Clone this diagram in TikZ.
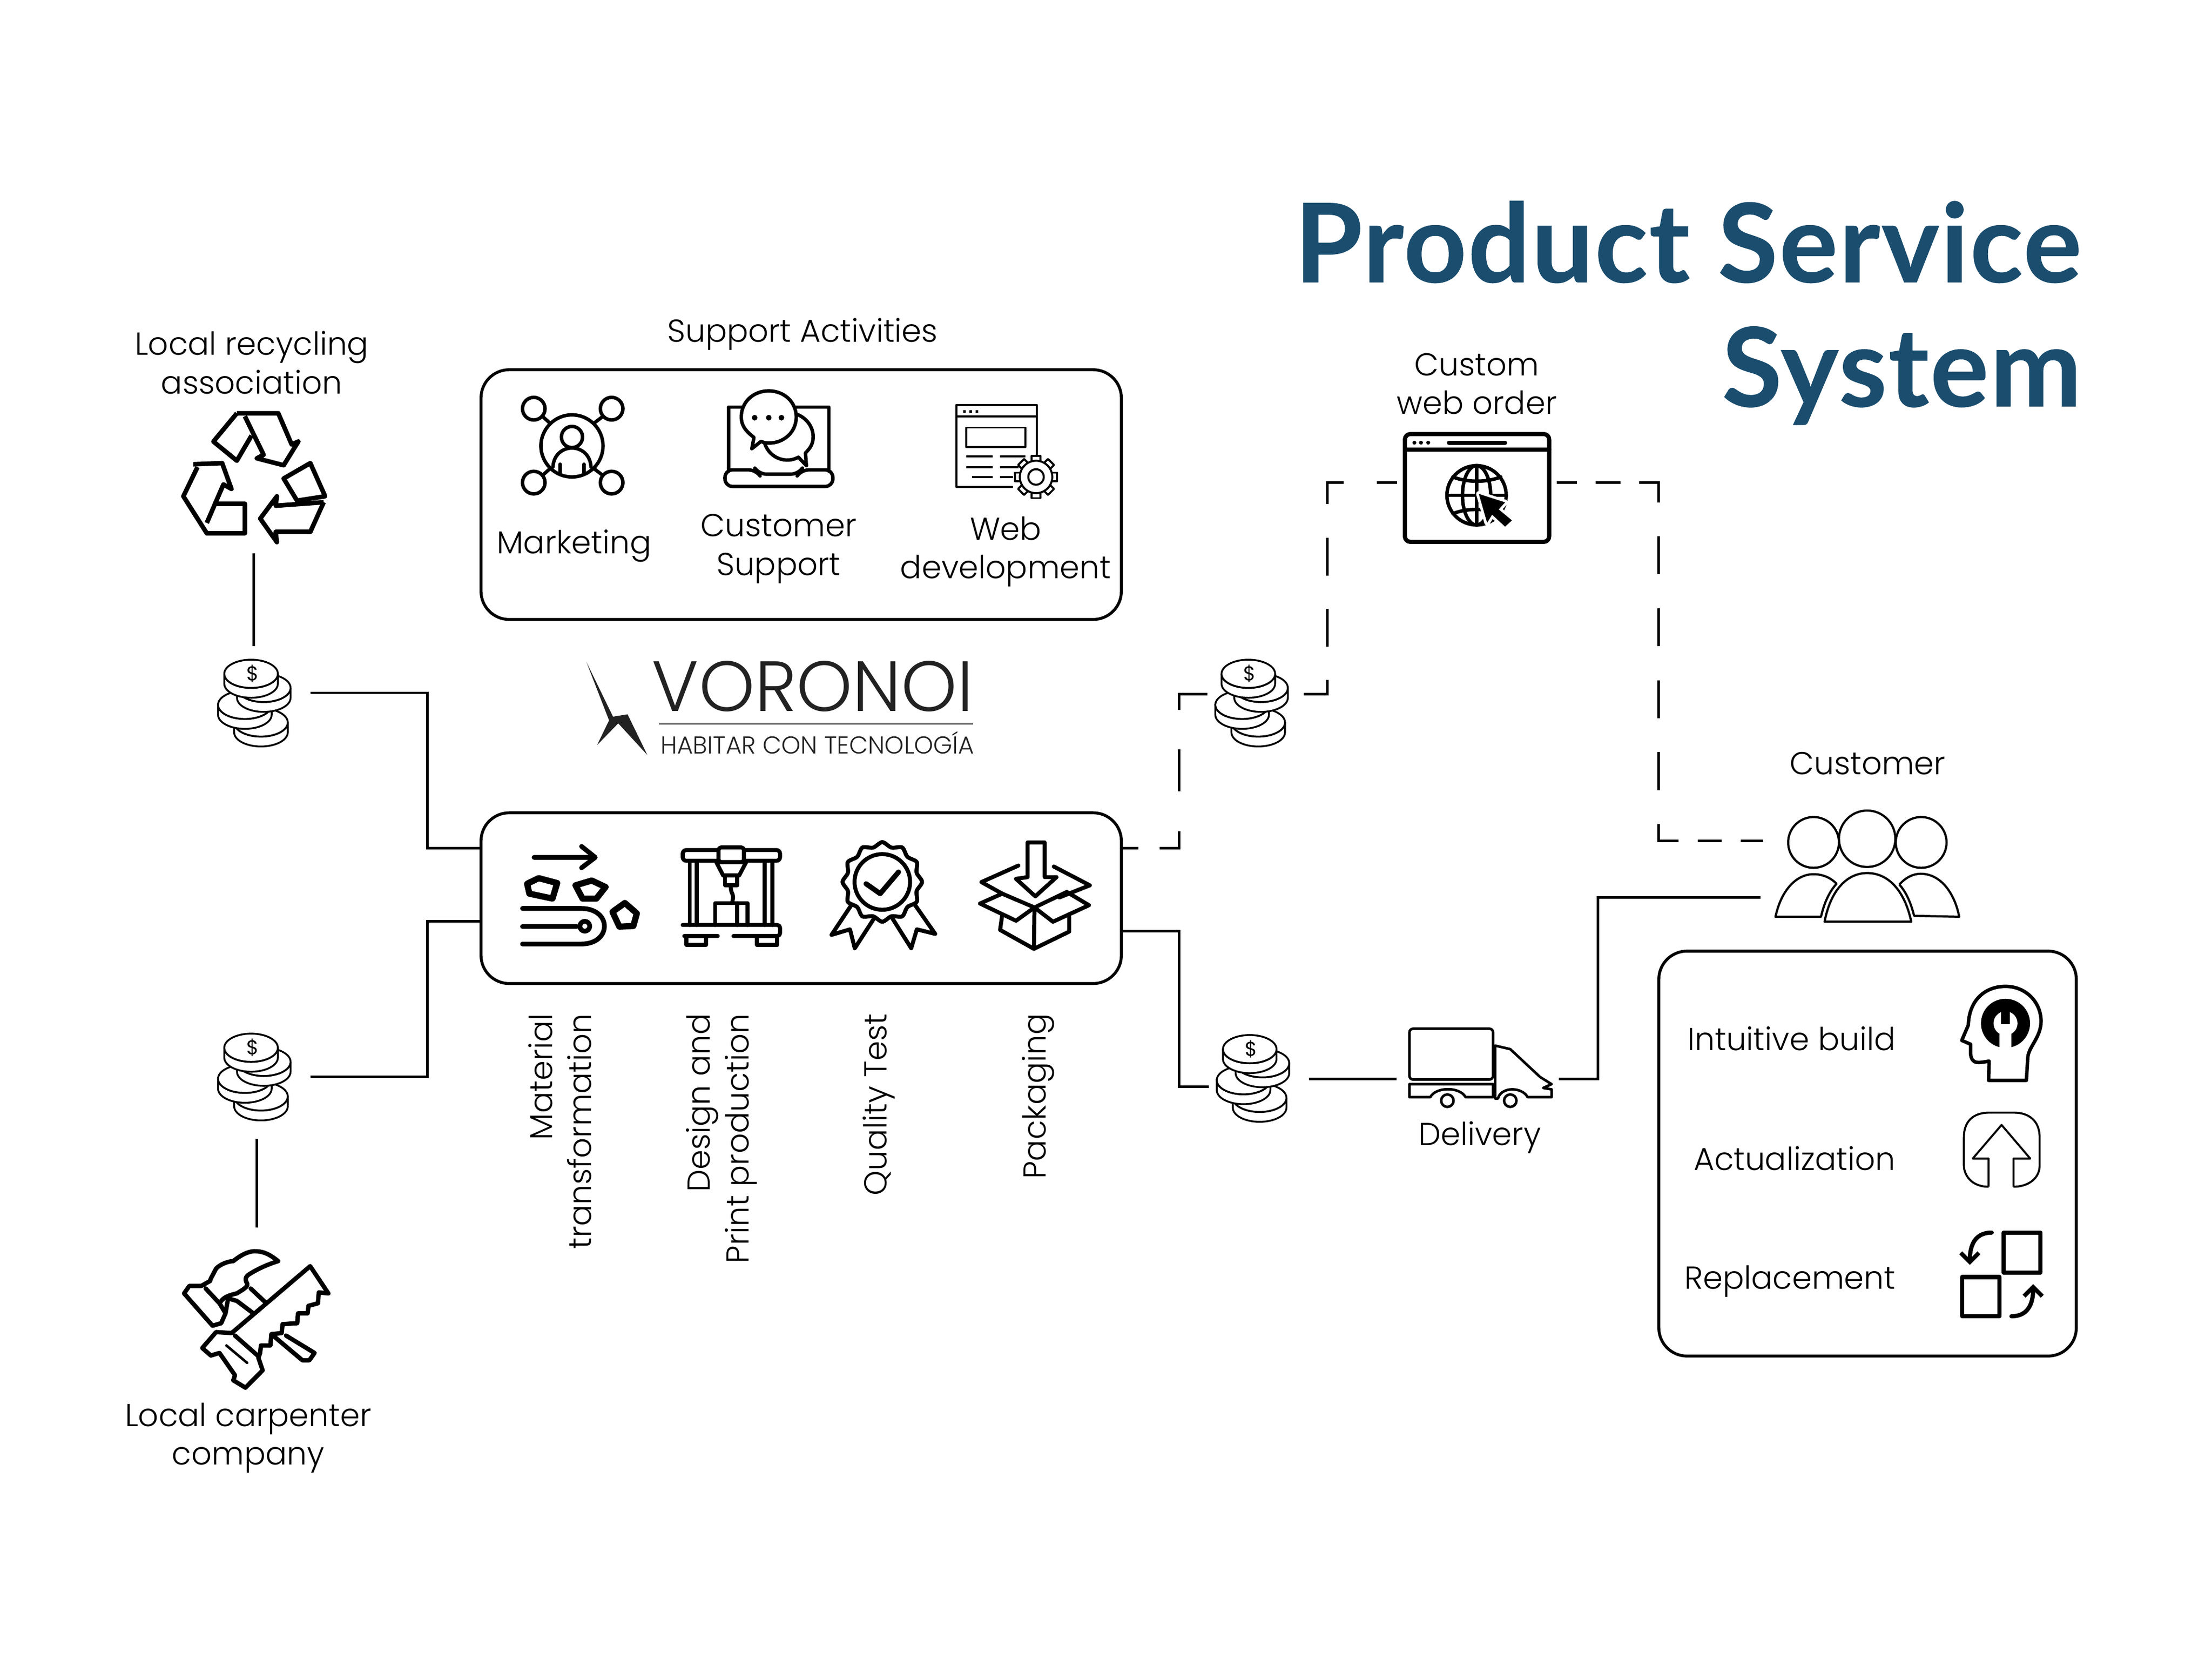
\documentclass[tikz,border=0pt]{standalone}
\usepackage{fontspec}
\setmainfont{Poppins Light}
\newfontfamily\titlefont[LetterSpace=1.4,FakeBold=0.5]{Lato Bold}
\newfontfamily\coinfont{Poppins}
\usetikzlibrary{arrows.meta}
\newcommand{\un}{0.02721cm}
\newcommand{\lblfont}{\fontsize{17.4}{21.2}\selectfont}
\definecolor{titleblue}{HTML}{1A4D6E}
\definecolor{logoink}{HTML}{222222}
\tikzset{
    hold/.style 2 args={inner sep=0pt,outer sep=0pt,minimum width=#1*\un,minimum height=#2*\un},
    wire/.style={line width=1.4pt},
    dashlink/.style={line width=1.4pt,line cap=rect},
    frame/.style={line width=1.6pt,rounded corners=15.5pt},
    lbl/.style={font=\lblfont,align=center,inner sep=0pt},
    icon/.style={line width=1.9pt,line join=round,line cap=round},
    fine/.style={line width=1.1pt,line join=round},
    coin/.style={line width=1.0pt,fill=white},
    coins/.pic={
        \foreach \cx/\cy in {4/14,-7.4/1.5,6/-10.5,-3/-20.5}{
            \draw[coin] (\cx-19,\cy) -- (\cx-19,\cy+7) arc[start angle=180,end angle=360,x radius=19,y radius=-10]
                -- (\cx+19,\cy) arc[start angle=0,end angle=180,x radius=19,y radius=10] -- cycle;
            \draw[coin] (\cx,\cy) circle[x radius=19,y radius=10];
        }
        \node[inner sep=0pt,font=\coinfont\fontsize{11}{11}\selectfont] (dollar) at (-2,-20.5) {\$};
    }
}
\begin{document}
\begin{tikzpicture}[x=\un,y=-\un]
    \useasboundingbox (0,0) rectangle (1568.2,1185.6);

    \node[font=\titlefont\fontsize{60}{60}\selectfont,text=titleblue,anchor=base east,inner sep=0pt] (title1) at (1476,200) {Product Service};
    \node[font=\titlefont\fontsize{60}{60}\selectfont,text=titleblue,anchor=base east,inner sep=0pt] (title2) at (1476,288) {System};

    % boxes
    \draw[frame] (341,262) rectangle (795,439);
    \draw[frame] (341,576) rectangle (795,697);
    \draw[frame] (1176,674) rectangle (1472,961);

    % places the connectors stop at
    \node[hold={90}{24}] (recycle) at (180,380) {};
    \node[hold={80}{66}] (coinA) at (180,491) {};
    \node[hold={76}{88}] (coinB) at (182,763) {};
    \node[hold={60}{120}] (tools) at (182,930) {};
    \node[hold={67}{40}] (coinC) at (888.5,492) {};
    \node[hold={71}{40}] (coinD) at (892.5,764.5) {};
    \node[hold={115}{60}] (web) at (1047,342) {};
    \node[hold={115}{40}] (truck) at (1047.5,764.5) {};
    \coordinate (inA) at (341,601);
    \coordinate (inB) at (341,653);
    \coordinate (outA) at (795,601);
    \coordinate (outB) at (795,660);
    \coordinate (payIn) at (857,770);
    \coordinate (crowdIn) at (1248,636);
    \coordinate (crowdOrder) at (1249,596);
    \coordinate (lowBend) at (836,601);
    \coordinate (highBend) at (836,492);
    \coordinate (upBend) at (941,492);
    \coordinate (rightTop) at (1176,342);
    \coordinate (rightLow) at (1176,596);

    % connectors
    \draw[wire] (recycle.south) -- (coinA.north);
    \draw[wire] (coinB.south) -- (tools.north);
    \draw[wire] (coinA.east) -- ++(83,0) |- (inA);
    \draw[wire] (coinB.east) -- ++(83,0) |- (inB);
    \draw[wire] (outB) -- ++(41,0) |- (payIn);
    \draw[wire] (coinD.east) -- (truck.west);
    \draw[wire] (truck.east) -- ++(28,0) |- (crowdIn);

    \draw[dashlink,dash pattern=on 11.6pt off 13.2pt,dash phase=3.1pt] (outA) -- (lowBend);
    \draw[dashlink,dash pattern=on 21.7pt off 23.2pt,dash phase=13.2pt] (lowBend) -- (highBend);
    \draw[dashlink] (highBend) -- (coinC.west);
    \draw[dashlink,dash pattern=on 19.4pt off 19.7pt,dash phase=9.8pt] (web.west) -| (upBend) -- (coinC.east);
    \draw[dashlink,dash pattern=on 12.4pt off 11.6pt,dash phase=2.7pt] (web.east) -- (rightTop);
    \draw[dashlink,dash pattern=on 19.5pt off 20pt,dash phase=9.4pt] (rightTop) -- (rightLow);
    \draw[dashlink,dash pattern=on 11.6pt off 12pt,dash phase=1.55pt] (rightLow) -- (crowdOrder);

    % coins
    \pic at (181,498) {coins};
    \pic at (181,763) {coins};
    \pic at (888,498) {coins};
    \pic at (889,764) {coins};

    % labels
    \node[lbl] (tRecycle) at (178.5,257) {Local recycling\\association};
    \node[lbl] (tSupport) at (569,237) {Support Activities};
    \node[lbl] (tMarket) at (407,387) {Marketing};
    \node[lbl] (tCustomer) at (552,389) {Customer\\Support};
    \node[lbl] (tWeb) at (713,391) {Web\\development};
    \node[lbl] (tCarpenter) at (176,1019) {Local carpenter\\company};
    \node[lbl] (tOrder) at (1047,272) {Custom\\web order};
    \node[lbl] (tBuyer) at (1324,541) {Customer};
    \node[lbl] (tDelivery) at (1049,806) {Delivery};
    \node[lbl,anchor=east] (tBuild) at (1344,736) {Intuitive build};
    \node[lbl,anchor=east] (tActual) at (1344,821) {Actualization};
    \node[lbl,anchor=east] (tReplace) at (1344,908) {Replacement};

    \begin{scope}[every node/.style={lbl,rotate=90,anchor=east,align=right}]
        \node (tMaterial) at (397,718) {Material\\transformation};
        \node (tDesign) at (511.5,718) {Design and\\Print production};
        \node (tQuality) at (623,718) {Quality Test};
        \node (tPacking) at (736,718) {Packaging};
    \end{scope}

    % logo
    \fill[logoink] (415.8,469.3) -- (434.6,507.9) -- (444.9,506.2) -- (458.9,535) -- (438.3,512.6) -- (423.3,528) -- (431.8,510.5) -- cycle;
    \node[font=\fontsize{39}{39}\selectfont,text=logoink,inner sep=0pt,anchor=base west] (logoName) at (462,504) {VORONOI};
    \node[font=\fontsize{13.4}{13.4}\selectfont,text=logoink,inner sep=0pt,anchor=base west] (logoLine) at (468,534) {HABITAR CON TECNOLOGÍA};
    \draw[logoink,line width=0.7pt] (467,513) -- (690,513);

    % recycling
    \begin{scope}[icon,line width=2.5pt,line cap=butt]
        \draw (167.9,292.9) -- (197.3,292.9) -- (206.8,315) -- (211.5,312.9) -- (201.1,329.7) -- (182.1,324.8) -- (186.9,322.3) -- (173.6,295);
        \draw (167.9,292.9) -- (151.3,312.9) -- (167.9,326.5) -- (178.3,308.7);
        \draw (201.1,339.1) -- (220,328.2) -- (230.5,351.7) -- (210.6,354.8) -- cycle;
        \draw (229.5,355.9) -- (195.4,358.4) -- (196.3,351.7) -- (184.5,367.5) -- (196.3,384.2) -- (195.4,376.9) -- (220,376.9) -- (229.5,355.9);
        \draw (137,329) -- (157.5,328.2) -- (164.1,346.5) -- (158.4,343.3) -- (146.6,370.6);
        \draw (140,331) -- (130,351.7) -- (146.6,377.9) -- (173.6,377.9) -- (173.6,357) -- (151.3,357);
    \end{scope}

    % marketing
    \begin{scope}[icon]
        \draw (405.5,316) circle (22);
        \foreach \sx/\sy in {378.4/289.6,433.6/289.6,378.4/342,433.6/342}{
            \draw (\sx,\sy) circle (8);
        }
        \draw (384.5,295) -- (390,300) (427.5,295) -- (421,300) (384.5,337) -- (390,332) (427.5,337) -- (421,332);
        \draw (405.5,309.7) circle (7.5);
        \draw (392,331) .. controls (393,313) and (418,313) .. (419,331);
        \draw (397,329) -- (397,335) (414,329) -- (414,335);
    \end{scope}

    % customer support
    \begin{scope}[icon]
        \draw (516.5,334) -- (516.5,288.5) -- (587.6,288.5) -- (587.6,334);
        \draw[rounded corners=4pt] (514,333) -- (536,333) -- (538,336) -- (566,336) -- (568,333) -- (590.4,333) -- (590.4,344.7) -- (514,344.7) -- cycle;
        \draw[fill=white] (571.7,330) -- (566,324) .. controls (555,330) and (541.5,322) .. (541.5,309.5) .. controls (541.5,300) and (550,292.5) .. (559,292.5) .. controls (568,292.5) and (576.5,300) .. (576.5,309.5) .. controls (576.5,315) and (574,318) .. (571,321) -- cycle;
        \draw[fill=white] (533,318) -- (534.5,310) .. controls (528,305) and (525.5,301) .. (525.5,295.5) .. controls (525.5,285) and (534,277) .. (545,277) .. controls (556,277) and (564.5,285) .. (564.5,295.5) .. controls (564.5,306) and (556,314) .. (545,314) .. controls (543,314) and (541,313.5) .. (539.5,312.8) -- cycle;
        \fill (535,296) circle (2) (545,296) circle (2) (554,296) circle (2);
    \end{scope}

    % web development
    \begin{scope}[fine]
        \draw (735,330) -- (735,287) -- (678,287) -- (678,345) -- (718,345);
        \draw (678,295) -- (735,295);
        \draw[dotted,line width=1.4pt] (683,291.5) -- (694,291.5);
        \draw (685,303) rectangle (727,316.7);
        \draw (685,323.5) -- (703.7,323.5) (709,323.5) -- (727,323.5);
        \draw (685,331) -- (703.7,331) (709,331) -- (722,331);
        \draw (689,338) -- (703.7,338) (709,338) -- (718,338);
        \foreach \a in {0,45,...,315}{
            \draw[shift={(734.5,338)},rotate=\a,fill=white] (-3,-15) rectangle (3,-9);
        }
        \draw[fill=white] (734.5,338) circle (11.5);
        \draw (734.5,338) circle (5.5);
    \end{scope}

    % conveyor
    \begin{scope}[icon,line width=2.6pt]
        \draw (378.6,607.6) -- (421.1,607.6) (412.3,599.8) -- (422,607.6) -- (412.3,615);
        \begin{scope}[line width=3.4pt]
            \draw (373.7,626.3) -- (381.9,622.3) -- (395,625.8) -- (391.7,636.8) -- (375.3,633.3) -- cycle;
            \draw (408,627.4) -- (419.5,624) -- (429.3,628.6) -- (422.8,636.8) -- (413,636.8) -- cycle;
            \draw (434.2,646.2) -- (443,639.9) -- (451.5,647.3) -- (449,656.2) -- (439.1,656.7) -- cycle;
        \end{scope}
        \draw (370.4,643.8) -- (412,643.8) .. controls (434,643.8) and (434,669) .. (412,669) -- (370.4,669);
        \draw (370.4,656.7) -- (409,656.7);
        \draw (414.6,656.4) circle (3.5);
    \end{scope}

    % printer
    \begin{scope}[icon,line width=2.2pt]
        \draw[rounded corners=2pt] (484,602.4) rectangle (553,610);
        \draw (489,610) -- (489,655.5) (494,610) -- (494,655.5) (542,610) -- (542,655.5) (547.7,610) -- (547.7,655.5);
        \draw (507,655.5) -- (507,640) -- (530,640) -- (530,655.5) (522.5,640) -- (522.5,655.5);
        \draw[rounded corners=1.5pt] (484,655.5) -- (553,655.5) -- (553,663.3) -- (520,663.3) (510,663.3) -- (484,663.3) -- cycle;
        \draw (486.5,663.3) rectangle (500.6,669.6) (536.6,663.3) rectangle (551,669.6);
        \draw[fill=white,rounded corners=1.5pt] (509.4,600.5) rectangle (527.4,611);
        \draw[fill=white] (507.8,611) -- (529,611) -- (524,620.4) -- (512.7,620.4) -- cycle;
        \draw (514,620.4) -- (514,627.4) -- (522.5,627.4) -- (522.5,620.4);
        \draw (518,627.4) .. controls (518,635) and (521,632) .. (519,640);
    \end{scope}

    % quality medal
    \begin{scope}[icon,line width=2.2pt]
        \draw (604.3,640.3) -- (589.5,662.5) -- (602.6,658.6) -- (606,672) -- (619.6,650.9);
        \draw (647.7,639.9) -- (663,661.8) -- (650,658.6) -- (646,672) -- (632.7,650.9);
        \draw[fill=white] plot[smooth cycle,samples at={0,1,...,23},variable=\k] ({625.5+(26.7+1.5*cos(\k*180))*cos(\k*15)},{625+(26.7+1.5*cos(\k*180))*sin(\k*15)});
        \draw (625.5,625) circle (19.7);
        \draw[line width=2.8pt] (614,626.3) -- (624,633.3) -- (637,618);
    \end{scope}

    % packaging
    \begin{scope}[icon,line width=2.2pt]
        \draw (728.5,597) -- (740.6,597) -- (740.6,621.6) -- (749,621.6) -- (734,635.2) -- (720.3,622.8) -- (728.5,621.6) -- cycle;
        \draw (722,613.4) -- (695.8,625.1) -- (710.5,633.3);
        \draw (747.1,614.1) -- (772.6,627.4) -- (751,636);
        \draw (710.5,633.3) -- (694.8,640.3) -- (720.3,652.5) -- (733.4,643.1) -- (746.5,653.2) -- (772,641.5) -- (756.3,632.1);
        \draw (710.5,633.3) -- (733.4,643.1) -- (756.3,632.1);
        \draw (710.5,648.5) -- (709,659) -- (733,672.4) -- (758,660.2) -- (758,649.7);
        \draw (733.4,643.1) -- (733,672.4);
    \end{scope}

    % tools
    \begin{scope}[icon,line width=2.4pt]
        % hammer
        \draw (148.9,907.8) -- (142.7,911.3) -- (134.2,911.3) -- (130.5,916.6) -- (150.7,939.5) -- (156.8,937.7) -- (159.9,930.7) -- (155.6,923.6) -- (145.8,913.1);
        \draw (155.6,923.6) .. controls (158,920) and (160,918.4) .. (167.9,916.6) .. controls (172,914) and (176,912) .. (175.2,909.6) .. controls (173,906) and (175,904) .. (176.4,903.2) .. controls (183,899) and (190,896) .. (197.2,893.7) .. controls (190,888) and (186,886.7) .. (180.1,886.7) .. controls (175,887) and (170,890) .. (165.4,893.7) .. controls (160,894) and (155,897) .. (153.2,899) -- (149.5,906) -- (148.9,907.8);
        \draw (159.9,930.7) -- (161.7,920.1) -- (167.9,921.9) -- (181.3,932);
        \draw (177.7,913.1) -- (189.3,924);
        \draw (202.8,946.5) -- (223,958.8) -- (219.3,964) -- (214.4,964) -- (193.6,946.5);
        % saw
        \draw[fill=white] (164.2,944.7) -- (219.9,897.3) -- (232.8,916.6) -- (226,915.9) -- (225.4,923.6) -- (218.7,925.4) -- (218.1,930.7) -- (211.3,930.7) -- (210.7,937.7) -- (200.3,938.4) -- (199.7,944.7) -- (192.4,945.5) -- (191.7,953.5) -- (185,953.5) -- (184.4,958.8) -- (183.2,962.3) -- (186.2,971.1) -- (174,983.4) -- (165.4,978.2) -- (166.6,974.6) -- (155.6,958.8) -- (149.5,960.6) -- (143.4,955.3) -- (153.2,944) -- cycle;
        \draw (166.6,946.5) -- (182.6,960.6);
        \draw[line width=1.4pt] (160.5,953.5) -- (175.2,965.8);
    \end{scope}

    % web order
    \begin{scope}[icon,line width=2.3pt]
        \draw[rounded corners=3pt] (996,307.6) rectangle (1098.3,384);
        \draw (996,318.5) -- (1098.3,318.5);
        \fill (1002.7,313.7) circle (1.4) (1007.4,313.7) circle (1.4) (1012.5,313.7) circle (1.4);
        \draw (1027.3,313.7) -- (1067,313.7);
        \begin{scope}[line width=1.9pt]
            \draw (1046.8,351) circle (21);
            \draw (1046.8,351) circle[x radius=10,y radius=21];
            \draw (1046.8,330) -- (1046.8,372) (1026,351) -- (1067.6,351);
            \draw (1030,338) .. controls (1040,342) and (1054,342) .. (1064,338);
            \draw (1030,364) .. controls (1040,360) and (1054,360) .. (1064,364);
        \end{scope}
        \draw[white,line width=3pt,fill=black] (1048.4,350) -- (1067,356) -- (1062.5,361) -- (1071.9,368.8) -- (1067,373.2) -- (1057.8,364.7) -- (1054.3,370.5) -- cycle;
        \fill (1048.4,350) -- (1067,356) -- (1062.5,361) -- (1071.9,368.8) -- (1067,373.2) -- (1057.8,364.7) -- (1054.3,370.5) -- cycle;
    \end{scope}

    % truck
    \begin{scope}[fine,line width=1.4pt]
        \draw[rounded corners=2pt] (999.2,729) rectangle (1058.5,765);
        \draw (999.2,768.3) -- (1058.5,768.3) -- (1058.5,777.5) -- (1039,777.5) .. controls (1035,770) and (1018,770) .. (1014,777.5) -- (999.2,777.5) -- cycle;
        \draw (1060,741) -- (1070.7,743.5) -- (1091.8,763.2) -- (1100,768.3) -- (1094,771) -- (1100,772) -- (1100,777.5) -- (1083,777.5) .. controls (1079,770) and (1064,770) .. (1062,778.5) -- (1060,778.5) -- cycle;
        \draw (1026.1,780) circle (4.4) (1070.7,780) circle (4.4);
    \end{scope}

    % customers
    \begin{scope}[fine,line width=1.2pt]
        \draw (1323.7,594.4) circle (20);
        \draw (1285.7,597) circle (18);
        \draw (1362,597) circle (18);
        \draw (1293.5,653.2) .. controls (1298,630) and (1310,618.7) .. (1323.7,618.7) .. controls (1338,618.7) and (1350,630) .. (1355,653.2) -- cycle;
        \draw (1258.7,649.7) .. controls (1263,630) and (1274,619.5) .. (1285.7,619.5) .. controls (1292,619.5) and (1298,622) .. (1302,626.3) .. controls (1296,633) and (1293,641) .. (1291,649.7) -- cycle;
        \draw (1346.5,626.8) .. controls (1351,622) and (1356,619.2) .. (1361.7,619.2) .. controls (1374,619.2) and (1385,630) .. (1389,649.7) -- (1357,649) .. controls (1355,641) and (1352,633) .. (1346.5,626.8);
    \end{scope}

    % intuitive build
    \begin{scope}[icon,line width=1.9pt]
        \draw (1409.8,765.6) -- (1410.2,752) .. controls (1403,753) and (1398,755) .. (1397,746.8) -- (1397,740) -- (1390.8,737.3) -- (1395.4,726.5) .. controls (1396,708) and (1408,699) .. (1421.8,699) .. controls (1436,699) and (1447,710) .. (1447,723.8) .. controls (1447,735) and (1438,742) .. (1437.6,749.5) -- (1436.6,765.6) -- cycle;
        \fill (1421.8,725.2) circle (17.4);
        \fill[white] (1421.8,725.2) circle (8.5);
        \fill[white] (1417.5,725) rectangle (1426,743);
        \fill (1418.7,716) rectangle (1425,726);
    \end{scope}

    % actualization
    \begin{scope}[fine]
        \draw (1409.8,841) .. controls (1397,841) and (1392.3,832) .. (1392.3,826) -- (1392.3,806) .. controls (1392.3,792) and (1402,788.5) .. (1410,788.5) -- (1428,788.5) .. controls (1438,788.5) and (1446,794) .. (1446,806) -- (1446,826) .. controls (1446,835) and (1438,841) .. (1427.5,841);
        \draw (1409.8,841) -- (1409.8,821) -- (1398.6,821) -- (1419,797.2) -- (1439.3,821) -- (1427.5,821) -- (1427.5,841);
    \end{scope}

    % replacement
    \begin{scope}[icon,line width=2.3pt]
        \draw (1420.3,873.5) rectangle (1446.7,901.8);
        \draw (1391.2,905) rectangle (1417.6,932.8);
        \draw[-{Straight Barb[length=5pt,width=10pt]}] (1412,873.5) .. controls (1402,873.5) and (1396.5,880) .. (1396.5,896.4);
        \draw[-{Straight Barb[length=5pt,width=10pt]}] (1426,932.8) .. controls (1437,932.8) and (1441.4,925) .. (1441.4,910);
    \end{scope}
\end{tikzpicture}
\end{document}
